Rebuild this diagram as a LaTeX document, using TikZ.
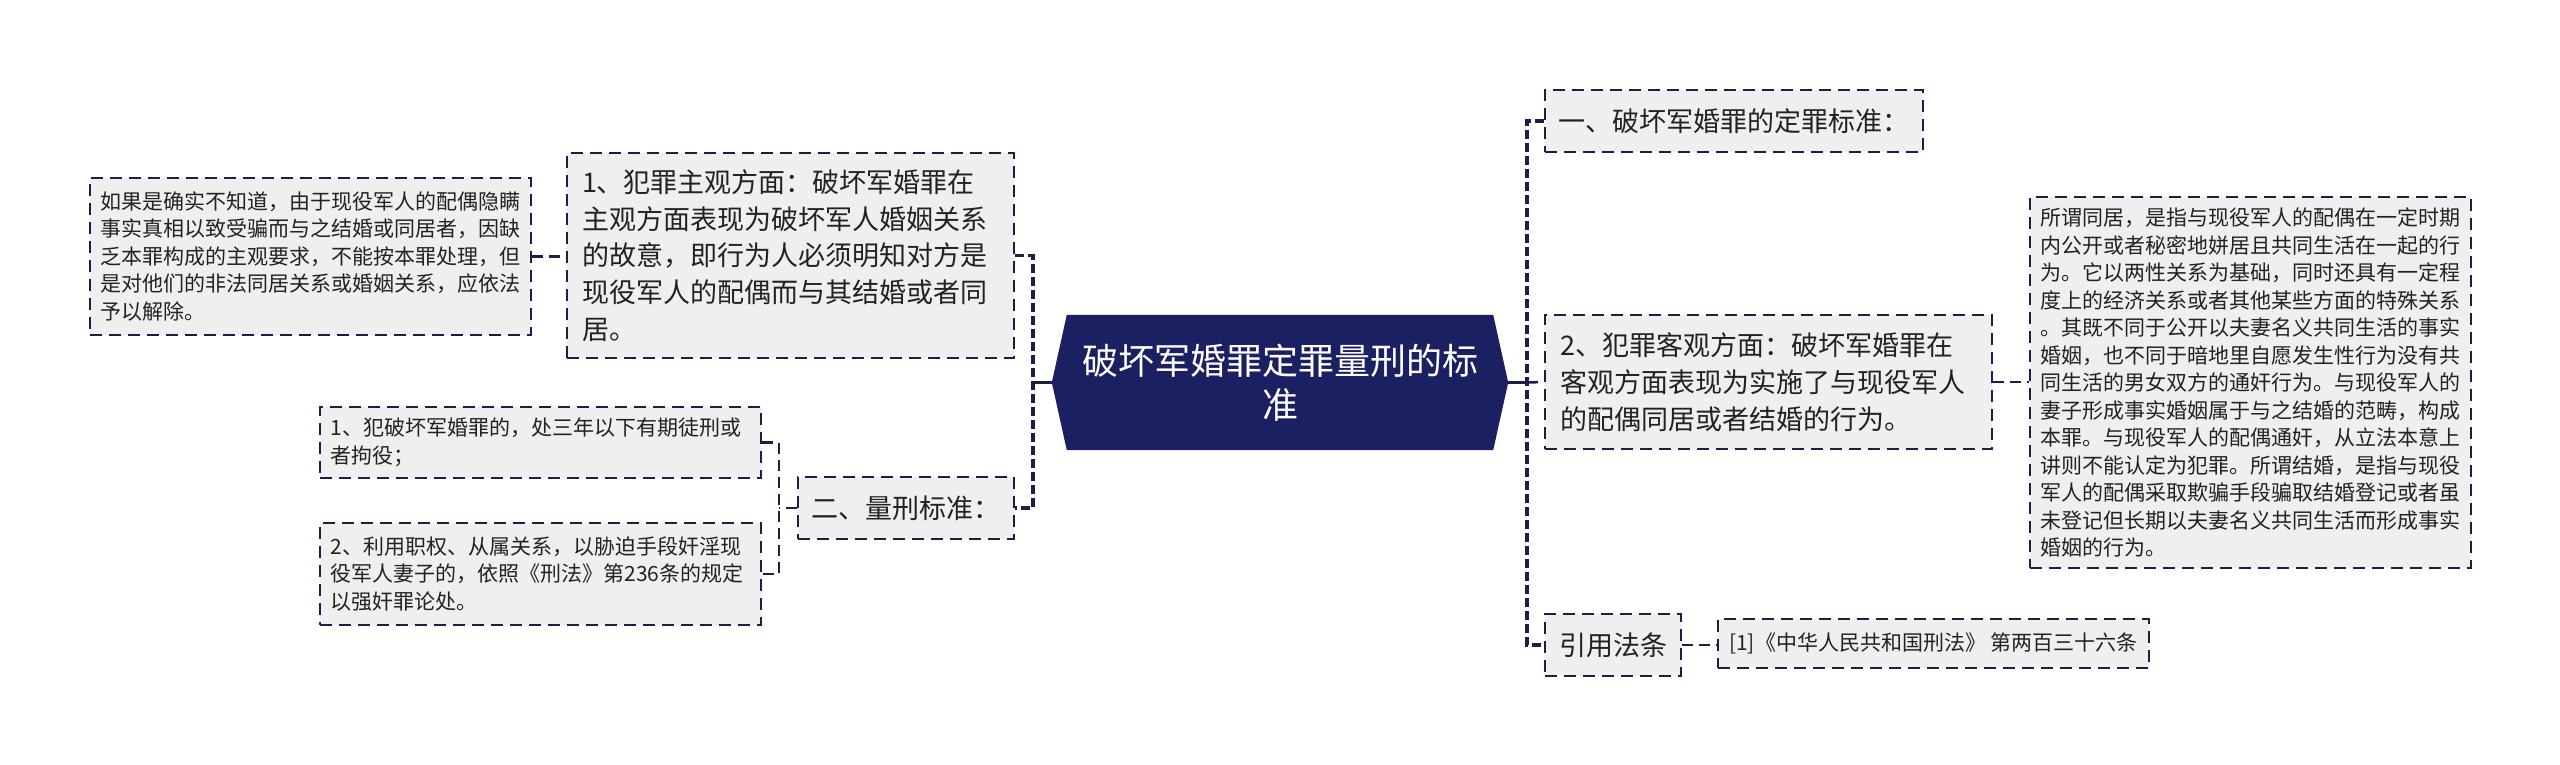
\documentclass[tikz,border=0pt]{standalone}
\usepackage{fontspec}
\setmainfont{Noto Sans CJK SC}
\usetikzlibrary{backgrounds}
\definecolor{navy}{RGB}{27,32,98}
\definecolor{linec}{RGB}{28,30,72}
\definecolor{boxfill}{RGB}{239,239,239}
\definecolor{ink}{RGB}{34,34,34}
\tikzset{
  mbox/.style={draw=linec, line width=2.2pt, dash pattern=on 12pt off 7pt, fill=boxfill, text=ink, inner ysep=0pt, align=left, anchor=center},
  bigtxt/.style={font=\fontsize{27}{36.7}\selectfont, inner xsep=15pt, text width=417pt},
  smalltxt/.style={font=\fontsize{21}{27.5}\selectfont, inner xsep=10.5pt, text width=420pt},
  onebig/.style={font=\fontsize{27}{36.7}\selectfont, inner xsep=0pt},
  onesmall/.style={font=\fontsize{21}{27.5}\selectfont, inner xsep=0pt},
  trunk/.style={draw=linec, line width=3.2pt, dash pattern=on 9pt off 4pt},
  link/.style={draw=linec, line width=2.5pt, dash pattern=on 11pt off 6pt},
  solidlink/.style={draw=linec, line width=3pt},
}
\begin{document}
\begin{tikzpicture}[x=1pt,y=-1pt]
\useasboundingbox (0,0) rectangle (2560,765);

% central node
\node[text=white, font=\fontsize{36}{44}\selectfont, align=center, minimum width=456pt, minimum height=135pt, inner sep=0pt] (c) at (1280,382.5) {破坏军婚罪定罪量刑的标\\准};
\begin{scope}[on background layer]
\fill[navy] (c.west) -- ([xshift=15pt]c.north west) -- ([xshift=-15pt]c.north east) -- (c.east) -- ([xshift=-15pt]c.south east) -- ([xshift=15pt]c.south west) -- cycle;
\end{scope}

% left side
\node[mbox,bigtxt,minimum height=205pt] (L1) at (790.5,255.5) {1、犯罪主观方面：破坏军婚罪在\\主观方面表现为破坏军人婚姻关系\\的故意，即行为人必须明知对方是\\现役军人的配偶而与其结婚或者同\\居。};
\node[mbox,smalltxt,minimum height=157pt] (L1a) at (310.5,256.5) {如果是确实不知道，由于现役军人的配偶隐瞒\\事实真相以致受骗而与之结婚或同居者，因缺\\乏本罪构成的主观要求，不能按本罪处理，但\\是对他们的非法同居关系或婚姻关系，应依法\\予以解除。};
\node[mbox,onebig,minimum width=216pt,minimum height=62pt] (L2) at (906,508) {二、量刑标准：};
\node[mbox,smalltxt,minimum height=71pt] (L2a) at (540.5,442.5) {1、犯破坏军婚罪的，处三年以下有期徒刑或\\者拘役；};
\node[mbox,smalltxt,minimum height=102pt] (L2b) at (540.5,574) {2、利用职权、从属关系，以胁迫手段奸淫现\\役军人妻子的，依照《刑法》第236条的规定\\以强奸罪论处。};

% right side
\node[mbox,onebig,minimum width=378pt,minimum height=62pt] (R1) at (1734,121) {一、破坏军婚罪的定罪标准：};
\node[mbox,bigtxt,minimum height=134pt] (R2) at (1768.5,382) {2、犯罪客观方面：破坏军婚罪在\\客观方面表现为实施了与现役军人\\的配偶同居或者结婚的行为。};
\node[mbox,smalltxt,minimum height=371pt] (R2a) at (2250.5,382.5) {所谓同居，是指与现役军人的配偶在一定时期\\内公开或者秘密地姘居且共同生活在一起的行\\为。它以两性关系为基础，同时还具有一定程\\度上的经济关系或者其他某些方面的特殊关系\\。其既不同于公开以夫妻名义共同生活的事实\\婚姻，也不同于暗地里自愿发生性行为没有共\\同生活的男女双方的通奸行为。与现役军人的\\妻子形成事实婚姻属于与之结婚的范畴，构成\\本罪。与现役军人的配偶通奸，从立法本意上\\讲则不能认定为犯罪。所谓结婚，是指与现役\\军人的配偶采取欺骗手段骗取结婚登记或者虽\\未登记但长期以夫妻名义共同生活而形成事实\\婚姻的行为。};
\node[mbox,onebig,minimum width=136pt,minimum height=62pt] (R3) at (1613,645) {引用法条};
\node[mbox,onesmall,minimum width=431pt,minimum height=49pt] (R3a) at (1933.5,643.5) {[1]《中华人民共和国刑法》 第两百三十六条};

% connectors
\coordinate (lt) at (1033,382.5);
\coordinate (rt) at (1527,382.5);
\coordinate (mt) at (779,508);

\draw[solidlink] (c.west) -- (lt);
\draw[trunk] (L1.east) -- (L1.east -| lt) -- (L2.east -| lt) -- (L2.east);
\draw[solidlink] (c.east) -- (rt);
\draw[trunk] (R1.west) -- (R1.west -| rt) -- (R3.west -| rt) -- (R3.west);
\draw[link] (rt) -- (R2.west);
\draw[link] (L1a.east) -- (L1a.east -| L1.west);
\draw[link] (L2.west) -- (mt);
\draw[link] (L2a.east) -- (L2a.east -| mt) -- (L2b.east -| mt) -- (L2b.east);
\draw[link] (R2.east) -- (R2.east -| R2a.west);
\draw[link] (R3.east) -- (R3.east -| R3a.west);
\end{tikzpicture}
\end{document}
